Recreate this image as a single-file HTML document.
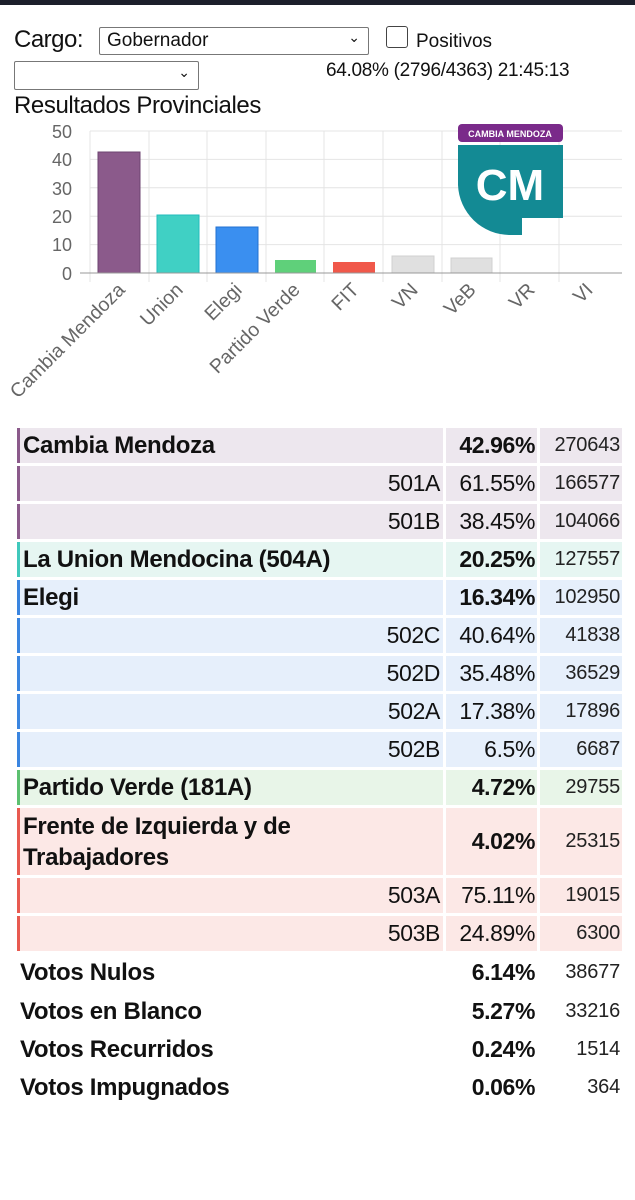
<!DOCTYPE html>
<html><head><meta charset="utf-8"><style>
body{margin:0;width:635px;height:1200px;background:#fff;position:relative;overflow:hidden;font-family:"Liberation Sans",sans-serif;color:#111}
.a{position:absolute}
.c{position:absolute;display:flex;align-items:center;box-sizing:border-box;font-size:23px;letter-spacing:-0.4px}
.n{left:17px;width:426px;padding-left:3px;border-left:3px solid}
.n b{font-size:24px;letter-spacing:-0.3px}
.sub{justify-content:flex-end;padding-right:3px}
.p{left:446px;width:91px;justify-content:flex-end;padding-right:2px}
.p b{font-size:23px}
.k{left:540px;width:82px;justify-content:flex-end;padding-right:2px;font-size:20px;color:#222;letter-spacing:-0.2px}
b{font-weight:bold}
</style></head><body>
<div class="a" style="left:0;top:0;width:635px;height:5px;background:#1c1f2b"></div>
<div class="a" style="left:14px;top:26px;font-size:24px;letter-spacing:-0.5px">Cargo:</div>
<div class="a" style="left:99px;top:27px;width:270px;height:28px;border:1px solid #777;border-radius:2px;box-sizing:border-box;font-size:19px;padding:2px 7px">Gobernador<span style="position:absolute;right:8px;top:1px;font-size:14px">&#8964;</span></div>
<div class="a" style="left:386px;top:26px;width:22px;height:22px;border:1.5px solid #444;border-radius:3px;box-sizing:border-box"></div>
<div class="a" style="left:416px;top:31px;font-size:19px">Positivos</div>
<div class="a" style="left:14px;top:61px;width:185px;height:29px;border:1px solid #777;border-radius:2px;box-sizing:border-box"><span style="position:absolute;right:8px;top:2px;font-size:14px">&#8964;</span></div>
<div class="a" style="left:326px;top:60px;font-size:19px;letter-spacing:-0.3px">64.08% (2796/4363) 21:45:13</div>
<div class="a" style="left:14px;top:92px;font-size:24px;letter-spacing:-0.4px">Resultados Provinciales</div>
<svg class="a" style="left:0;top:115px" width="635" height="305" viewBox="0 115 635 305" font-family="Liberation Sans" >
<g stroke="#e4e4e4" stroke-width="1">
<line x1="90" y1="131" x2="622" y2="131"/><line x1="90" y1="159.4" x2="622" y2="159.4"/><line x1="90" y1="187.8" x2="622" y2="187.8"/><line x1="90" y1="216.2" x2="622" y2="216.2"/><line x1="90" y1="244.6" x2="622" y2="244.6"/>
<line x1="90" y1="131" x2="90" y2="282"/><line x1="149" y1="131" x2="149" y2="282"/><line x1="207" y1="131" x2="207" y2="282"/><line x1="266" y1="131" x2="266" y2="282"/><line x1="324" y1="131" x2="324" y2="282"/><line x1="383" y1="131" x2="383" y2="282"/><line x1="442" y1="131" x2="442" y2="282"/><line x1="500" y1="131" x2="500" y2="282"/><line x1="559" y1="131" x2="559" y2="282"/>
</g>
<g font-size="18" fill="#666" text-anchor="end"><text x="72" y="138">50</text><text x="72" y="166">40</text><text x="72" y="195">30</text><text x="72" y="223">20</text><text x="72" y="251">10</text><text x="72" y="280">0</text></g>
<rect x="98" y="152" width="42" height="121" fill="#8b5a8b" stroke="#6e4470"/>
<rect x="157" y="215" width="42" height="58" fill="#40d0c4" stroke="#2bb"/>
<rect x="216" y="227" width="42" height="46" fill="#3a8ff0" stroke="#2370d0"/>
<rect x="275" y="260" width="41" height="13" fill="#5fd07a"/>
<rect x="333" y="262" width="42" height="11" fill="#f0584a"/>
<rect x="392" y="256" width="42" height="17" fill="#e0e0e0" stroke="#d0d0d0"/>
<rect x="451" y="258" width="41" height="15" fill="#e0e0e0" stroke="#d0d0d0"/>
<line x1="80" y1="273" x2="622" y2="273" stroke="#999"/>
<g font-size="19.5" fill="#666" text-anchor="end">
<text transform="translate(126,291) rotate(-45)">Cambia Mendoza</text>
<text transform="translate(184,291) rotate(-45)">Union</text>
<text transform="translate(243,291) rotate(-45)">Elegi</text>
<text transform="translate(301,291) rotate(-45)">Partido Verde</text>
<text transform="translate(360,291) rotate(-45)">FIT</text>
<text transform="translate(419,291) rotate(-45)">VN</text>
<text transform="translate(477,291) rotate(-45)">VeB</text>
<text transform="translate(536,291) rotate(-45)">VR</text>
<text transform="translate(594,291) rotate(-45)">VI</text>
</g>
<rect x="458" y="124" width="105" height="18" rx="4" fill="#7a2a8a"/>
<text x="510" y="137" font-size="9" font-weight="bold" fill="#fff" text-anchor="middle">CAMBIA MENDOZA</text>
<path d="M458 145 H563 V218 H522 V235 H510 A52 52 0 0 1 458 185 Z" fill="#138a94"/>
<text x="510" y="200" font-size="44" font-weight="bold" fill="#fff" text-anchor="middle">CM</text>
</svg>

<div style="position:absolute;left:0;top:0">
<div class="c n" style="top:428px;height:35px;background:#ede7ee;border-color:#8b5a8b"><b>Cambia Mendoza</b></div>
<div class="c p" style="top:428px;height:35px;background:#ede7ee"><b>42.96%</b></div>
<div class="c k" style="top:428px;height:35px;background:#ede7ee">270643</div>
<div class="c n sub" style="top:466px;height:35px;background:#ede7ee;border-color:#8b5a8b">501A</div>
<div class="c p" style="top:466px;height:35px;background:#ede7ee">61.55%</div>
<div class="c k" style="top:466px;height:35px;background:#ede7ee">166577</div>
<div class="c n sub" style="top:504px;height:35px;background:#ede7ee;border-color:#8b5a8b">501B</div>
<div class="c p" style="top:504px;height:35px;background:#ede7ee">38.45%</div>
<div class="c k" style="top:504px;height:35px;background:#ede7ee">104066</div>
<div class="c n" style="top:542px;height:35px;background:#e6f6f2;border-color:#40c8bc"><b>La Union Mendocina (504A)</b></div>
<div class="c p" style="top:542px;height:35px;background:#e6f6f2"><b>20.25%</b></div>
<div class="c k" style="top:542px;height:35px;background:#e6f6f2">127557</div>
<div class="c n" style="top:580px;height:35px;background:#e6effb;border-color:#3a85e0"><b>Elegi</b></div>
<div class="c p" style="top:580px;height:35px;background:#e6effb"><b>16.34%</b></div>
<div class="c k" style="top:580px;height:35px;background:#e6effb">102950</div>
<div class="c n sub" style="top:618px;height:35px;background:#e6effb;border-color:#3a85e0">502C</div>
<div class="c p" style="top:618px;height:35px;background:#e6effb">40.64%</div>
<div class="c k" style="top:618px;height:35px;background:#e6effb">41838</div>
<div class="c n sub" style="top:656px;height:35px;background:#e6effb;border-color:#3a85e0">502D</div>
<div class="c p" style="top:656px;height:35px;background:#e6effb">35.48%</div>
<div class="c k" style="top:656px;height:35px;background:#e6effb">36529</div>
<div class="c n sub" style="top:694px;height:35px;background:#e6effb;border-color:#3a85e0">502A</div>
<div class="c p" style="top:694px;height:35px;background:#e6effb">17.38%</div>
<div class="c k" style="top:694px;height:35px;background:#e6effb">17896</div>
<div class="c n sub" style="top:732px;height:35px;background:#e6effb;border-color:#3a85e0">502B</div>
<div class="c p" style="top:732px;height:35px;background:#e6effb">6.5%</div>
<div class="c k" style="top:732px;height:35px;background:#e6effb">6687</div>
<div class="c n" style="top:770px;height:35px;background:#e8f5e8;border-color:#5cc070"><b>Partido Verde (181A)</b></div>
<div class="c p" style="top:770px;height:35px;background:#e8f5e8"><b>4.72%</b></div>
<div class="c k" style="top:770px;height:35px;background:#e8f5e8">29755</div>
<div class="c n" style="top:808px;height:67px;background:#fce8e6;border-color:#e85a50;line-height:31px"><b>Frente de Izquierda y de<br>Trabajadores</b></div>
<div class="c p" style="top:808px;height:67px;background:#fce8e6"><b>4.02%</b></div>
<div class="c k" style="top:808px;height:67px;background:#fce8e6">25315</div>
<div class="c n sub" style="top:878px;height:35px;background:#fce8e6;border-color:#e85a50">503A</div>
<div class="c p" style="top:878px;height:35px;background:#fce8e6">75.11%</div>
<div class="c k" style="top:878px;height:35px;background:#fce8e6">19015</div>
<div class="c n sub" style="top:916px;height:35px;background:#fce8e6;border-color:#e85a50">503B</div>
<div class="c p" style="top:916px;height:35px;background:#fce8e6">24.89%</div>
<div class="c k" style="top:916px;height:35px;background:#fce8e6">6300</div>
<div class="c n" style="top:955px;height:35px;border-color:transparent;left:14px"><b>Votos Nulos</b></div>
<div class="c p" style="top:955px;height:35px"><b>6.14%</b></div>
<div class="c k" style="top:955px;height:35px">38677</div>
<div class="c n" style="top:994px;height:35px;border-color:transparent;left:14px"><b>Votos en Blanco</b></div>
<div class="c p" style="top:994px;height:35px"><b>5.27%</b></div>
<div class="c k" style="top:994px;height:35px">33216</div>
<div class="c n" style="top:1032px;height:35px;border-color:transparent;left:14px"><b>Votos Recurridos</b></div>
<div class="c p" style="top:1032px;height:35px"><b>0.24%</b></div>
<div class="c k" style="top:1032px;height:35px">1514</div>
<div class="c n" style="top:1070px;height:35px;border-color:transparent;left:14px"><b>Votos Impugnados</b></div>
<div class="c p" style="top:1070px;height:35px"><b>0.06%</b></div>
<div class="c k" style="top:1070px;height:35px">364</div>
</div>
</body></html>
